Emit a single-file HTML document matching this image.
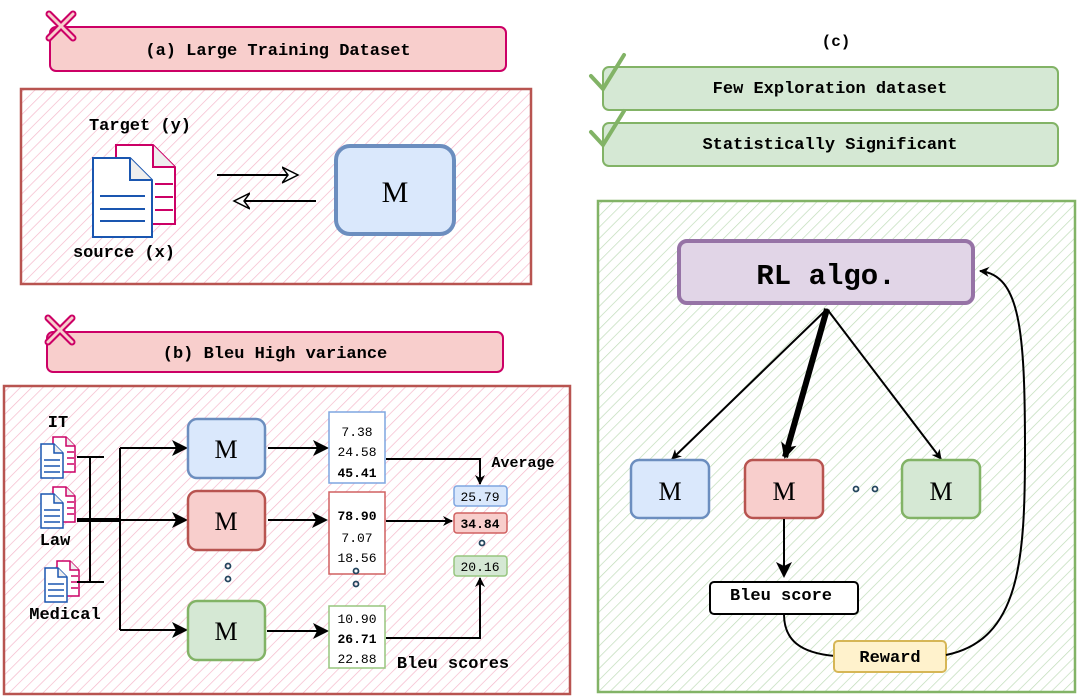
<!DOCTYPE html>
<html><head><meta charset="utf-8"><style>
html,body{margin:0;padding:0;background:#fff;width:1080px;height:699px;overflow:hidden}
text{font-family:"Liberation Mono","DejaVu Sans Mono",monospace;font-weight:bold}
.m{font-family:"Liberation Serif",serif;font-weight:normal}
.n{font-weight:normal}
</style></head><body>
<svg width="1080" height="699" viewBox="0 0 1080 699" xmlns="http://www.w3.org/2000/svg">
<defs>
<pattern id="hp" width="8" height="8" patternUnits="userSpaceOnUse" patternTransform="rotate(45)"><line x1="0" y1="0" x2="0" y2="8" stroke="#f5b8cb" stroke-width="1.4"/></pattern>
<pattern id="hg" width="8" height="8" patternUnits="userSpaceOnUse" patternTransform="rotate(45)"><line x1="0" y1="0" x2="0" y2="8" stroke="#bfdcb8" stroke-width="1.4"/></pattern>
<marker id="a" markerWidth="10" markerHeight="10" refX="9" refY="5" orient="auto" markerUnits="userSpaceOnUse"><path d="M0,0 L10,5 L0,10 L3,5 Z" fill="#000"/></marker>
<marker id="ab" markerWidth="16" markerHeight="16" refX="14" refY="8" orient="auto" markerUnits="userSpaceOnUse"><path d="M0,0 L16,8 L0,16 L4,8 Z" fill="#000"/></marker>
<marker id="ao" markerWidth="18" markerHeight="18" refX="16" refY="9" orient="auto" markerUnits="userSpaceOnUse"><path d="M0,1 L16,9 L0,17 L6,9 Z" fill="#fff" stroke="#000" stroke-width="1.5"/></marker>
</defs>

<!-- (a) -->
<rect x="50" y="27" width="456" height="44" rx="6" fill="#f8cecc" stroke="#cc0066" stroke-width="2"/>
<text x="278" y="55" font-size="17" text-anchor="middle">(a) Large Training Dataset</text>
<path d="M49,14 L73,38 M73,14 L49,38" stroke="#cc0066" stroke-width="7" stroke-linecap="round"/>
<path d="M49,14 L73,38 M73,14 L49,38" stroke="#f8cecc" stroke-width="3" stroke-linecap="round"/>
<rect x="21" y="89" width="510" height="195" fill="url(#hp)" stroke="#b85450" stroke-width="2.5"/>
<text x="140" y="130" font-size="17" text-anchor="middle">Target (y)</text>
<text x="124" y="257" font-size="17" text-anchor="middle">source (x)</text>
<path d="M116,145 L153,145 L175,167 L175,224 L116,224 Z" fill="#fff" stroke="#cc0066" stroke-width="2"/>
<path d="M153,145 L153,167 L175,167" fill="#eee" stroke="#cc0066" stroke-width="2"/>
<path d="M155,184 H173 M155,197 H173 M155,210 H173" stroke="#cc0066" stroke-width="2"/>
<path d="M93,158 L130,158 L152,180 L152,237 L93,237 Z" fill="#fff" stroke="#1a56b0" stroke-width="2"/>
<path d="M130,158 L130,180 L152,180" fill="#eee" stroke="#1a56b0" stroke-width="2"/>
<path d="M100,196 H145 M100,209 H145 M100,221 H145" stroke="#1a56b0" stroke-width="2"/>
<line x1="217" y1="175" x2="298" y2="175" stroke="#000" stroke-width="2" marker-end="url(#ao)"/>
<line x1="316" y1="201" x2="234" y2="201" stroke="#000" stroke-width="2" marker-end="url(#ao)"/>
<rect x="336" y="146" width="118" height="88" rx="14" fill="#dae8fc" stroke="#6c8ebf" stroke-width="4"/>
<text x="395" y="202" class="m" font-size="30" text-anchor="middle">M</text>

<!-- (b) -->
<rect x="47" y="332" width="456" height="40" rx="6" fill="#f8cecc" stroke="#cc0066" stroke-width="2"/>
<text x="275" y="358" font-size="17" text-anchor="middle">(b) Bleu High variance</text>
<path d="M48,318 L72,342 M72,318 L48,342" stroke="#cc0066" stroke-width="7" stroke-linecap="round"/>
<path d="M48,318 L72,342 M72,318 L48,342" stroke="#f8cecc" stroke-width="3" stroke-linecap="round"/>
<rect x="4" y="386" width="566" height="308" fill="url(#hp)" stroke="#b85450" stroke-width="2.5"/>

<g id="sd">
<path d="M53,437 L66,437 L75,446 L75,472 L53,472 Z" fill="#fff" stroke="#cc0066" stroke-width="1.5"/>
<path d="M66,437 L66,446 L75,446" fill="#eee" stroke="#cc0066" stroke-width="1.5"/>
<path d="M67,452 H74 M67,458 H74 M67,464 H74" stroke="#cc0066" stroke-width="1.5"/>
<path d="M41,444 L54,444 L63,453 L63,478 L41,478 Z" fill="#fff" stroke="#1a56b0" stroke-width="1.5"/>
<path d="M54,444 L54,453 L63,453" fill="#eee" stroke="#1a56b0" stroke-width="1.5"/>
<path d="M44,460 H60 M44,466 H60 M44,472 H60" stroke="#1a56b0" stroke-width="1.5"/>
</g>
<use href="#sd" transform="translate(0,50)"/>
<use href="#sd" transform="translate(4,124)"/>
<text x="58" y="427" font-size="17" text-anchor="middle">IT</text>
<text x="55" y="545" font-size="17" text-anchor="middle">Law</text>
<text x="65" y="619" font-size="17" text-anchor="middle">Medical</text>

<path d="M77,457 H104 M90,457 V582 M77,582 H104" stroke="#000" stroke-width="2" fill="none"/>
<path d="M77,520 H121" stroke="#000" stroke-width="4"/>
<path d="M120,448 V630" stroke="#000" stroke-width="2"/>
<line x1="120" y1="448" x2="186" y2="448" stroke="#000" stroke-width="2" marker-end="url(#ab)"/>
<line x1="120" y1="520" x2="186" y2="520" stroke="#000" stroke-width="2" marker-end="url(#ab)"/>
<line x1="120" y1="630" x2="186" y2="630" stroke="#000" stroke-width="2" marker-end="url(#ab)"/>

<rect x="188" y="419" width="77" height="59" rx="9" fill="#dae8fc" stroke="#6c8ebf" stroke-width="2.5"/>
<text x="226" y="458" class="m" font-size="26" text-anchor="middle">M</text>
<rect x="188" y="491" width="77" height="59" rx="9" fill="#f8cecc" stroke="#b85450" stroke-width="2.5"/>
<text x="226" y="530" class="m" font-size="26" text-anchor="middle">M</text>
<rect x="188" y="601" width="77" height="59" rx="9" fill="#d5e8d4" stroke="#82b366" stroke-width="2.5"/>
<text x="226" y="640" class="m" font-size="26" text-anchor="middle">M</text>

<line x1="268" y1="448" x2="327" y2="448" stroke="#000" stroke-width="2" marker-end="url(#ab)"/>
<line x1="268" y1="520" x2="326" y2="520" stroke="#000" stroke-width="2" marker-end="url(#ab)"/>
<line x1="267" y1="631" x2="327" y2="631" stroke="#000" stroke-width="2" marker-end="url(#ab)"/>

<rect x="329" y="412" width="56" height="71" fill="#fff" stroke="#7ea6e0" stroke-width="1.5"/>
<text x="357" y="436" class="n" font-size="13" text-anchor="middle">7.38</text>
<text x="357" y="456" class="n" font-size="13" text-anchor="middle">24.58</text>
<text x="357" y="477" font-size="13" text-anchor="middle">45.41</text>
<rect x="329" y="492" width="56" height="82" fill="#fff" stroke="#d06060" stroke-width="1.5"/>
<text x="357" y="520" font-size="13" text-anchor="middle">78.90</text>
<text x="357" y="542" class="n" font-size="13" text-anchor="middle">7.07</text>
<text x="357" y="562" class="n" font-size="13" text-anchor="middle">18.56</text>
<rect x="329" y="606" width="56" height="62" fill="#fff" stroke="#97c67e" stroke-width="1.5"/>
<text x="357" y="623" class="n" font-size="13" text-anchor="middle">10.90</text>
<text x="357" y="643" font-size="13" text-anchor="middle">26.71</text>
<text x="357" y="663" class="n" font-size="13" text-anchor="middle">22.88</text>

<path d="M386,459 H480 V484" stroke="#000" stroke-width="2" fill="none" marker-end="url(#a)"/>
<line x1="386" y1="521" x2="452" y2="521" stroke="#000" stroke-width="2" marker-end="url(#a)"/>
<path d="M386,638 H480 V578" stroke="#000" stroke-width="2" fill="none" marker-end="url(#a)"/>

<rect x="454" y="486" width="53" height="20" rx="3" fill="#dae8fc" stroke="#7ea6e0" stroke-width="1.5"/>
<text x="480" y="501" class="n" font-size="13" text-anchor="middle">25.79</text>
<rect x="454" y="513" width="53" height="20" rx="3" fill="#f8cecc" stroke="#d06060" stroke-width="1.5"/>
<text x="480" y="528" font-size="13" text-anchor="middle">34.84</text>
<rect x="454" y="556" width="53" height="20" rx="3" fill="#d5e8d4" stroke="#97c67e" stroke-width="1.5"/>
<text x="480" y="571" class="n" font-size="13" text-anchor="middle">20.16</text>
<circle cx="482" cy="543" r="2.5" fill="none" stroke="#23445d" stroke-width="1.8"/>
<circle cx="228" cy="566" r="2.5" fill="none" stroke="#23445d" stroke-width="1.8"/>
<circle cx="228" cy="579" r="2.5" fill="none" stroke="#23445d" stroke-width="1.8"/>
<circle cx="356" cy="571" r="2.5" fill="none" stroke="#23445d" stroke-width="1.8"/>
<circle cx="356" cy="584" r="2.5" fill="none" stroke="#23445d" stroke-width="1.8"/>
<text x="523" y="467" font-size="15" text-anchor="middle">Average</text>
<text x="453" y="668" font-size="17" text-anchor="middle">Bleu scores</text>

<!-- (c) -->
<text x="836" y="46" font-size="16" text-anchor="middle">(c)</text>
<rect x="603" y="67" width="455" height="43" rx="6" fill="#d5e8d4" stroke="#82b366" stroke-width="2"/>
<text x="830" y="93" font-size="17" text-anchor="middle">Few Exploration dataset</text>
<rect x="603" y="123" width="455" height="43" rx="6" fill="#d5e8d4" stroke="#82b366" stroke-width="2"/>
<text x="830" y="149" font-size="17" text-anchor="middle">Statistically Significant</text>
<path d="M591,76 L603,89 L624,55" stroke="#82b366" stroke-width="4" fill="none" stroke-linecap="round"/>
<path d="M591,132 L603,145 L624,111" stroke="#82b366" stroke-width="4" fill="none" stroke-linecap="round"/>
<rect x="598" y="201" width="477" height="491" fill="url(#hg)" stroke="#82b366" stroke-width="2.5"/>

<rect x="679" y="241" width="294" height="62" rx="8" fill="#e1d5e7" stroke="#9673a6" stroke-width="4"/>
<text x="826" y="284" font-size="29" text-anchor="middle">RL algo.</text>
<line x1="827" y1="309" x2="672" y2="459" stroke="#000" stroke-width="2" marker-end="url(#a)"/>
<line x1="827" y1="309" x2="785" y2="457" stroke="#000" stroke-width="6" marker-end="url(#ab)"/>
<line x1="827" y1="309" x2="941" y2="459" stroke="#000" stroke-width="2" marker-end="url(#a)"/>

<rect x="631" y="460" width="78" height="58" rx="8" fill="#dae8fc" stroke="#6c8ebf" stroke-width="2.5"/>
<text x="670" y="500" class="m" font-size="26" text-anchor="middle">M</text>
<rect x="745" y="460" width="78" height="58" rx="8" fill="#f8cecc" stroke="#b85450" stroke-width="2.5"/>
<text x="784" y="500" class="m" font-size="26" text-anchor="middle">M</text>
<rect x="902" y="460" width="78" height="58" rx="8" fill="#d5e8d4" stroke="#82b366" stroke-width="2.5"/>
<text x="941" y="500" class="m" font-size="26" text-anchor="middle">M</text>
<circle cx="856" cy="489" r="2.5" fill="none" stroke="#23445d" stroke-width="1.8"/>
<circle cx="875" cy="489" r="2.5" fill="none" stroke="#23445d" stroke-width="1.8"/>

<line x1="784" y1="519" x2="784" y2="576" stroke="#000" stroke-width="2" marker-end="url(#ab)"/>
<rect x="710" y="582" width="148" height="32" rx="4" fill="#fff" stroke="#000" stroke-width="2"/>
<text x="781" y="600" font-size="17" text-anchor="middle">Bleu score</text>
<path d="M784,614 C784,640 800,653 835,656" stroke="#000" stroke-width="2" fill="none"/>
<rect x="834" y="641" width="112" height="31" rx="4" fill="#fff2cc" stroke="#d6b656" stroke-width="2"/>
<text x="890" y="662" font-size="17" text-anchor="middle">Reward</text>
<path d="M946,655 C1020,640 1025,560 1025,450 C1025,330 1020,275 980,271" stroke="#000" stroke-width="2" fill="none" marker-end="url(#a)"/>
</svg>
</body></html>
